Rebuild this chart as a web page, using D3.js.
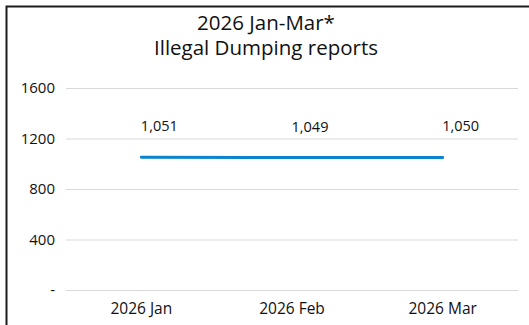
<!DOCTYPE html>
<html>
<head>
<meta charset="utf-8">
<script src="https://cdn.jsdelivr.net/npm/d3@7"></script>
<style>
  html, body { margin: 0; padding: 0; background: #fff; }
  svg { display: block; font-family: "Open Sans", "Noto Sans", sans-serif; }
</style>
</head>
<body>
<svg id="chart" width="529" height="325"></svg>
<script>
// Monthly illegal dumping reports, first quarter 2026
const months = ["2026 Jan", "2026 Feb", "2026 Mar"];
const reports = [1051, 1049, 1050];
const yTicks = [0, 400, 800, 1200, 1600];
const titleLines = ["2026 Jan-Mar*", "Illegal Dumping reports"];

const W = 529, H = 325;
const plot = { left: 66, right: 518, top: 88, bottom: 290 };
const font = "\"Open Sans\", \"Noto Sans\", sans-serif";

const svg = d3.select("#chart");

// frame around the chart
svg.append("path")
  .attr("d", `M6.5,${H} V6.5 H${W}`)
  .attr("fill", "none")
  .attr("stroke", "#1c1c1c")
  .attr("stroke-width", 2);

// title
const title = svg.append("text")
  .attr("text-anchor", "middle")
  .attr("font-size", 20.5)
  .attr("fill", "#111");
titleLines.forEach((t, i) => {
  title.append("tspan")
    .attr("x", 266)
    .attr("y", 30 + i * 25)
    .text(t);
});

const x = d3.scaleBand().domain(months).range([plot.left, plot.right]);
const y = d3.scaleLinear().domain([0, 1600]).range([plot.bottom, plot.top]);
const cx = d => x(d) + x.bandwidth() / 2;

// horizontal gridlines with value labels
const yAxis = d3.axisLeft(y)
  .tickValues(yTicks)
  .tickSize(-(plot.right - plot.left))
  .tickPadding(11)
  .tickFormat(d => d === 0 ? "-" : d3.format("d")(d));

const gy = svg.append("g")
  .attr("transform", `translate(${plot.left},0)`)
  .call(yAxis)
  .attr("font-family", font)
  .attr("font-size", 15);
gy.select(".domain").remove();
gy.selectAll(".tick line").attr("stroke", "#d9d9d9").attr("stroke-width", 1);
gy.selectAll(".tick text").attr("fill", "#111");

// category axis
const xAxis = d3.axisBottom(x).tickSize(0).tickPadding(13);
const gx = svg.append("g")
  .attr("transform", `translate(0,${plot.bottom})`)
  .call(xAxis)
  .attr("font-family", font)
  .attr("font-size", 15.5);
gx.select(".domain").remove();
gx.selectAll(".tick text").attr("fill", "#111");

// series line
const line = d3.line()
  .x((d, i) => cx(months[i]))
  .y(d => y(d));

svg.append("path")
  .datum(reports)
  .attr("d", line)
  .attr("fill", "none")
  .attr("stroke", "#0b84d0")
  .attr("stroke-width", 3)
  .attr("stroke-linecap", "round");

// value labels
svg.append("g")
  .attr("font-family", font)
  .attr("font-size", 14.5)
  .selectAll("text")
  .data(reports)
  .join("text")
  .attr("x", (d, i) => cx(months[i]) + 18)
  .attr("y", d => y(d) - 26)
  .attr("text-anchor", "middle")
  .attr("fill", "#111")
  .text(d => d3.format(",")(d));
</script>
</body>
</html>
